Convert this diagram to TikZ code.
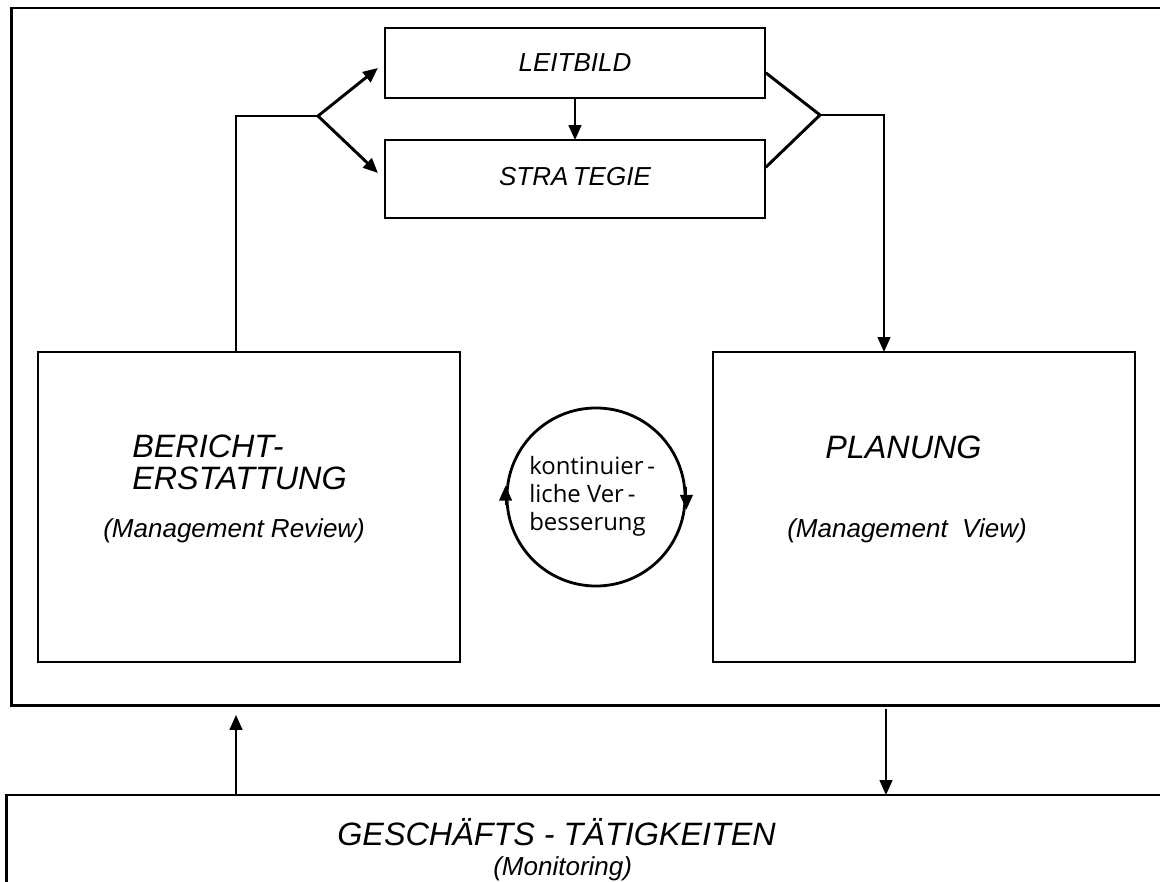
\documentclass[tikz,border=0pt]{standalone}
\usepackage{fontspec}
\setmainfont{Liberation Sans}
\newfontfamily\loopfont{Open Sans}
\usetikzlibrary{arrows.meta}
\newcommand\boxtitle{\fontsize{23pt}{22.5pt}\selectfont\itshape}
\newcommand\boxnote{\fontsize{18.5pt}{20pt}\selectfont\itshape}
\begin{document}
\begin{tikzpicture}[x=0.025cm,y=-0.025cm,
  frame/.style = {rectangle,draw,line width=1.6pt,outer sep=0mm,inner sep=0mm},
  conn/.style  = {line width=1.4pt},
  arrow/.style = {conn,-{Triangle[length=10.5pt,width=9pt]}},
  fork/.style  = {line width=2.1pt,line cap=round},
  label/.style = {inner sep=0mm}]
\useasboundingbox (0,0) rectangle (1160,882);
\clip (0,0) rectangle (1160,882);
\node[frame,line width=2pt,minimum width=29.2cm,minimum height=17.425cm] (mgmt) at (596,356.5) {};
\node[frame,line width=2pt,minimum width=29.325cm,minimum height=3.125cm] (biz) at (593.5,857.5) {};
\node[frame,minimum width=9.5cm,minimum height=1.75cm] (vision) at (575,63) {\boxnote LEITBILD};
\node[frame,minimum width=9.5cm,minimum height=1.95cm] (strategy) at (575,179) {\raisebox{3pt}{\boxnote STRA\,TEGIE}};
\node[frame,minimum width=10.55cm,minimum height=7.75cm] (report) at (249,507) {};
\node[frame,minimum width=10.55cm,minimum height=7.75cm] (plan) at (924,507) {};
\node[circle,draw,line width=2pt,minimum size=4.45cm,inner sep=0mm] (loop) at (596,497) {};
% box texts
\node[label,anchor=north west,align=left,font=\boxtitle] at (132,435) {BERICHT\kern-1pt-\\ERSTATTUNG};
\node[label,anchor=base west] at (103,537) {\boxnote (Management Review)};
\node[label,anchor=base west] at (825,458) {\boxtitle PLANUNG};
\node[label,anchor=base west] at (787,537) {\boxnote (Management\ \ View)};
\node[label,anchor=base west] at (337,845) {\boxtitle GESCHÄFTS - TÄTIGKEITEN};
\node[label,anchor=base west] at (493,875) {\boxnote (Monitoring)};
\node[label,anchor=north west,align=left,font=\loopfont\fontsize{17pt}{20pt}\selectfont] at (529,456)
  {kontinuier\,-\\liche Ver\,-\\besserung};
% arrows on the circle
\draw[arrow] ([yshift=-6pt]loop.west) -- ([yshift=8pt]loop.west);
\draw[arrow] ([yshift=7pt]loop.east) -- ([yshift=-9pt]loop.east);
% review -> vision / strategy
\coordinate (lfork) at (318,116);
\draw[conn] ([xshift=-0.325cm]report.north) |- (lfork);
\draw[fork,-{Triangle[length=10.5pt,width=9pt]}] (lfork) -- ([shift={(-7,5)}]vision.west);
\draw[fork,-{Triangle[length=10.5pt,width=9pt]}] (lfork) -- ([shift={(-7,-6)}]strategy.west);
\draw[arrow] (vision) -- (strategy);
% vision / strategy -> planning
\coordinate (rfork) at (820,115);
\draw[fork] ([shift={(1,10)}]vision.east) -- (rfork) -- ([shift={(1,-12)}]strategy.east);
\draw[arrow] (rfork) -| ([xshift=-1cm]plan.north);
% business activities
\coordinate (feedback) at (236,715);
\draw[arrow] (biz.north -| feedback) -- (feedback);
\coordinate (directive) at (886,709);
\draw[arrow] (directive) -- (biz.north -| directive);
\end{tikzpicture}
\end{document}
